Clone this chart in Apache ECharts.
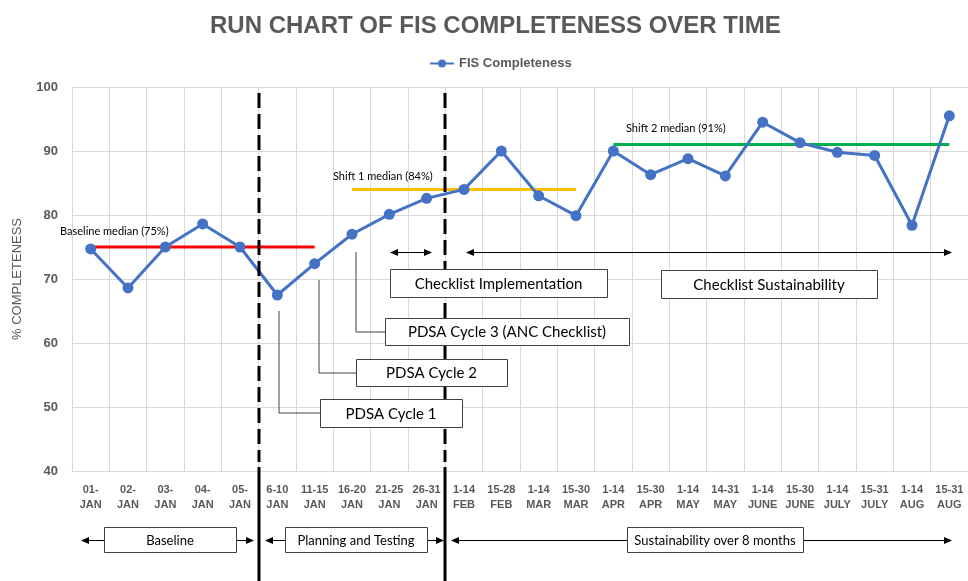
<!DOCTYPE html>
<html lang="en">
<head>
<meta charset="UTF-8">
<title>Run chart of FIS completeness</title>
<style>html,body{margin:0;padding:0;background:#fff;}</style>
</head>
<body>
<script src="https://cdn.jsdelivr.net/npm/echarts@6/dist/echarts.min.js"></script>
<div id="main" style="width:968px;height:581px;"></div>
<script type="text/javascript">

var periods = ['01-\nJAN', '02-\nJAN', '03-\nJAN', '04-\nJAN', '05-\nJAN',
    '6-10\nJAN', '11-15\nJAN', '16-20\nJAN', '21-25\nJAN', '26-31\nJAN',
    '1-14\nFEB', '15-28\nFEB', '1-14\nMAR', '15-30\nMAR', '1-14\nAPR', '15-30\nAPR',
    '1-14\nMAY', '14-31\nMAY', '1-14\nJUNE', '15-30\nJUNE', '1-14\nJULY', '15-31\nJULY',
    '1-14\nAUG', '15-31\nAUG'];
var completeness = [74.7, 68.6, 75.0, 78.6, 75.0, 67.5, 72.4, 77.0, 80.1, 82.6,
    84.0, 90.0, 83.0, 79.9, 90.0, 86.3, 88.8, 86.1, 94.5, 91.3, 89.8, 89.3, 78.4, 95.5];
var baselineMedian = [75, 75, 75, 75, 75, 75, 75, null, null, null, null, null,
    null, null, null, null, null, null, null, null, null, null, null, null];
var shift1Median = [null, null, null, null, null, null, null, 84, 84, 84, 84, 84,
    84, 84, null, null, null, null, null, null, null, null, null, null];
var shift2Median = [null, null, null, null, null, null, null, null, null, null, null, null,
    null, null, 91, 91, 91, 91, 91, 91, 91, 91, 91, 91];
var yTicks = [40, 100, 10]; // min, max, step
var phaseStarts = [5, 10]; // first category of planning and sustainability phases

var myChart = echarts.init(document.getElementById('main'));

function medianSeries(data, color) {
    return {
        type: 'line', data: data, symbol: 'none', silent: true, z: 1,
        lineStyle: {color: color, width: 3}
    };
}

myChart.setOption({
    animation: false,
    title: {
        text: 'RUN CHART OF FIS COMPLETENESS OVER TIME',
        left: 205, top: 9,
        textStyle: {fontFamily: 'Liberation Sans', fontSize: 24, fontWeight: 'bold', color: '#595959'}
    },
    legend: {
        data: ['FIS Completeness'],
        left: 424, top: 52, itemWidth: 24, itemHeight: 10,
        textStyle: {fontFamily: 'Liberation Sans', fontSize: 13, fontWeight: 'bold', color: '#595959'}
    },
    grid: {left: 72, top: 87, width: 905, height: 384},
    xAxis: {
        type: 'category',
        data: periods,
        boundaryGap: true,
        axisLine: {lineStyle: {color: '#d9d9d9'}},
        axisTick: {show: false},
        splitLine: {show: true, interval: 0, lineStyle: {color: '#d9d9d9'}},
        axisLabel: {
            interval: 0, margin: 11, lineHeight: 15,
            fontFamily: 'Liberation Sans', fontSize: 11, fontWeight: 'bold', color: '#595959'
        }
    },
    yAxis: {
        type: 'value',
        min: yTicks[0], max: yTicks[1], interval: yTicks[2],
        name: '% COMPLETENESS', nameLocation: 'middle', nameGap: 48,
        nameTextStyle: {fontFamily: 'Liberation Sans', fontSize: 13, color: '#595959'},
        axisLine: {show: false},
        axisTick: {show: false},
        splitLine: {lineStyle: {color: '#d9d9d9'}},
        axisLabel: {margin: 14, fontFamily: 'Liberation Sans', fontSize: 13, fontWeight: 'bold', color: '#595959'}
    },
    series: [
        medianSeries(baselineMedian, '#ff0000'),
        medianSeries(shift1Median, '#ffc000'),
        medianSeries(shift2Median, '#00b050'),
        {
            name: 'FIS Completeness',
            type: 'line',
            data: completeness,
            symbol: 'circle', symbolSize: 11, z: 3,
            itemStyle: {color: '#4472c4'},
            lineStyle: {color: '#4472c4', width: 3}
        }
    ]
});

// annotations (Excel shapes) drawn in pixel space on top of the chart
var ink = '#404040';
var txtFont = 'Lato';

function px(i) { return myChart.convertToPixel({xAxisIndex: 0}, i); }

function box(x1, y1, x2, y2, text, size) {
    return [{
        type: 'rect', z: 20,
        shape: {x: x1 + 0.5, y: y1 + 0.5, width: x2 - x1, height: y2 - y1},
        style: {fill: '#fff', stroke: ink, lineWidth: 1}
    }, {
        type: 'text', z: 21,
        x: (x1 + x2) / 2, y: (y1 + y2) / 2 + 1,
        style: {text: text, fontFamily: txtFont, fontSize: size, fill: '#000',
            textAlign: 'center', textVerticalAlign: 'middle'}
    }];
}

function seg(pts, w, color, dash) {
    return {
        type: 'polyline', z: 15,
        shape: {points: pts},
        style: {stroke: color || ink, lineWidth: w || 1, fill: null, lineDash: dash || null}
    };
}

function head(x, y, dir) {
    // dir: 1 points right, -1 points left
    return {
        type: 'polygon', z: 16,
        shape: {points: [[x, y], [x - dir * 8, y - 3.5], [x - dir * 8, y + 3.5]]},
        style: {fill: '#000'}
    };
}

function arrow(x1, x2, y, both) {
    var els = [seg([[x1 + (both ? 4 : 0), y + 0.5], [x2 - 4, y + 0.5]], 1.2, '#000'), head(x2, y + 0.5, 1)];
    if (both) els.push(head(x1, y + 0.5, -1));
    return els;
}

function label(x, y, text, size) {
    return {
        type: 'text', z: 20, x: x, y: y,
        style: {text: text, fontFamily: txtFont, fontSize: size, fill: '#000'}
    };
}

var g = [];
// phase separators: dashed inside the plot, solid below the axis
phaseStarts.forEach(function (i) {
    var x = Math.round((px(i - 1) + px(i)) / 2);
    g.push(seg([[x, 93], [x, 462]], 3, '#000', [15, 6]));
    g.push(seg([[x, 467], [x, 581]], 3, '#000'));
});

g.push(label(60, 226, 'Baseline median (75%)', 11));
g.push(label(333, 171, 'Shift 1 median (84%)', 11));
g.push(label(626, 123, 'Shift 2 median (91%)', 11));

g = g.concat(arrow(390, 432, 252, true));
g = g.concat(arrow(466, 952, 252, true));

// PDSA connectors
g.push(seg([[356, 252], [356, 332], [385, 332]]));
g.push(seg([[319, 280], [319, 373], [356, 373]]));
g.push(seg([[279, 311], [279, 413], [320, 413]]));

g = g.concat(box(390, 269, 607, 297, 'Checklist Implementation', 15));
g = g.concat(box(661, 270, 877, 298, 'Checklist Sustainability', 15));
g = g.concat(box(385, 318, 629, 345, 'PDSA Cycle 3 (ANC Checklist)', 15));
g = g.concat(box(356, 359, 507, 386, 'PDSA Cycle 2', 15));
g = g.concat(box(320, 399, 462, 427, 'PDSA Cycle 1', 15));

// phase arrows under the axis
g = g.concat(arrow(81, 254, 540, true));
g = g.concat(arrow(265, 444, 540, true));
g = g.concat(arrow(451, 952, 540, true));
g = g.concat(box(104, 527, 236, 552, 'Baseline', 13));
g = g.concat(box(285, 527, 427, 552, 'Planning and Testing', 13));
g = g.concat(box(627, 527, 803, 552, 'Sustainability over 8 months', 13));

myChart.setOption({graphic: g});
</script>
</body>
</html>
